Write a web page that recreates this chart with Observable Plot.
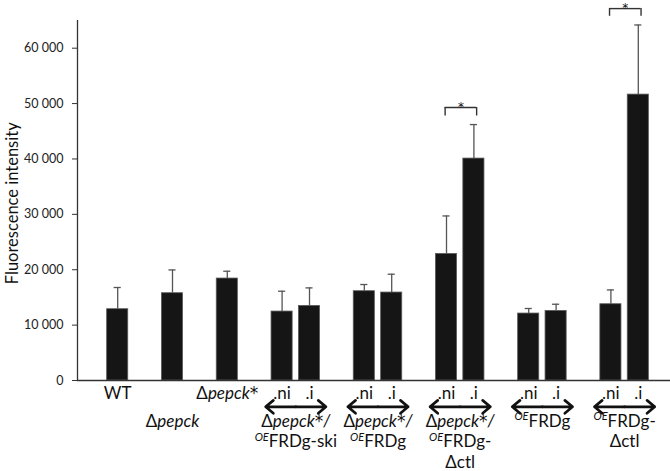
<!DOCTYPE html>
<html>
<head>
<meta charset="utf-8">
<script src="https://cdn.jsdelivr.net/npm/d3@7"></script>
<script src="https://cdn.jsdelivr.net/npm/@observablehq/plot@0.6"></script>
<style>
  html, body { margin: 0; padding: 0; background: white; }
</style>
</head>
<body>
<div id="chart"></div>
<script>
// ---- Data ----
// Markup in labels: _text_ = italic, ^text^ = italic superscript
const singleLabels = ["WT", "Δ_pepck_", "Δ_pepck*_"];
const singleMeans = [12870, 15760, 18410];
const singleSD = [3920, 4200, 1320];

const pairConditions = [".ni", ".i"];
const pairLabelLines = [
  ["Δ_pepck*/_", "^OE^FRDg-ski"],
  ["Δ_pepck*/_", "^OE^FRDg"],
  ["Δ_pepck*/_", "^OE^FRDg-", "Δctl"],
  ["^OE^FRDg"],
  ["^OE^FRDg-", "Δctl"]
];
const niMeans = [12450, 16120, 22850, 12090, 13770];
const niSD = [3670, 1210, 6860, 910, 2580];
const iMeans = [13470, 15880, 40070, 12560, 51620];
const iSD = [3250, 3310, 6140, 1210, 12570];

// significance brackets (pair index, bracket top value, bracket leg bottom value)
const sigPairs = [2, 4];
const sigTop = [49280, 67150];
const sigLeg = [47760, 65760];

const yTicks = [0, 10000, 20000, 30000, 40000, 50000, 60000];
const yLabel = "Fluorescence intensity";

// ---- Layout built from the data ----
const singleSlot = i => 2 * i;
const pairSlot = (j, k) => 6 + 3 * j + k;
const pairCenter = j => 6.5 + 3 * j;

const bars = [
  ...singleLabels.map((lab, i) => ({slot: singleSlot(i), mean: singleMeans[i], sd: singleSD[i]})),
  ...pairLabelLines.flatMap((_, j) => [
    {slot: pairSlot(j, 0), mean: niMeans[j], sd: niSD[j]},
    {slot: pairSlot(j, 1), mean: iMeans[j], sd: iSD[j]}
  ])
];

const fs = 17;
const rowDy = [12.6, 40.6, 61.1, 81.6];
const labelRows = [
  ...singleLabels.map((t, i) => ({x: singleSlot(i), row: i % 2, text: t})),
  ...pairLabelLines.flatMap((_, j) => pairConditions.map((c, k) => ({x: pairSlot(j, k), row: 0, text: c}))),
  ...pairLabelLines.flatMap((lines, j) => lines.map((t, r) => ({x: pairCenter(j), row: r + 1, text: t})))
];

const step = 27.4;       // pixels per slot
const hw = 0.385;        // half bar width in slot units
const capHw = 0.13;      // half cap width
const arrowHalf = 1.1;   // arrow half length
const xDomain = [-1.467, 20.175];

const sig = sigPairs.map((j, n) => ({x1: pairSlot(j, 0) - 0.05, x2: pairSlot(j, 1) + 0.1, top: sigTop[n], leg: sigLeg[n]}));

const fmt = d => d3.format(",")(d).replace(/,/g, " ");

const marks = [
  // bars
  Plot.rectY(bars, {x1: d => d.slot - hw, x2: d => d.slot + hw, y1: 0, y2: "mean", fill: "#151515", stroke: "#5a5a5a", strokeWidth: 0.8}),
  // error bars (upper only)
  Plot.ruleX(bars, {x: "slot", y1: "mean", y2: d => d.mean + d.sd, stroke: "#555", strokeWidth: 1.3}),
  Plot.ruleY(bars, {x1: d => d.slot - capHw, x2: d => d.slot + capHw, y: d => d.mean + d.sd, stroke: "#555", strokeWidth: 1.3}),
  // axes lines
  Plot.ruleY([0], {stroke: "#333", strokeWidth: 1.3}),
  Plot.ruleX([xDomain[0]], {y1: 0, y2: 65000, stroke: "#333", strokeWidth: 1.3}),
  Plot.axisY({ticks: yTicks, tickFormat: fmt, tickSize: 5, tickPadding: 9, fontSize: 12.5, label: null, stroke: "#333", fill: "#222"}),
  // y label
  Plot.text([yLabel], {x: () => xDomain[0] - 65 / step, y: () => 32000, rotate: -90, fontSize: 16.5, fill: "#111"}),
  // significance brackets
  Plot.ruleY(sig, {x1: "x1", x2: "x2", y: "top", stroke: "#333", strokeWidth: 1.4}),
  Plot.ruleX(sig, {x: "x1", y1: "leg", y2: "top", stroke: "#333", strokeWidth: 1.4}),
  Plot.ruleX(sig, {x: "x2", y1: "leg", y2: "top", stroke: "#333", strokeWidth: 1.4}),
  Plot.text(sig, {x: d => (d.x1 + d.x2) / 2, y: "top", text: () => "*", fontFamily: "'DejaVu Sans', sans-serif", fontSize: 12, dy: -0.5, fill: "#111"}),
  // double-headed arrows under pairs
  Plot.arrow(pairLabelLines, {x1: (_, j) => pairCenter(j), x2: (_, j) => pairCenter(j) - arrowHalf, y1: 0, y2: 0, dy: 26.3, stroke: "#111", strokeWidth: 2.7, headLength: 10, headAngle: 80}),
  Plot.arrow(pairLabelLines, {x1: (_, j) => pairCenter(j), x2: (_, j) => pairCenter(j) + arrowHalf, y1: 0, y2: 0, dy: 26.3, stroke: "#111", strokeWidth: 2.7, headLength: 10, headAngle: 80}),
  // category labels
  ...rowDy.map((dy, r) => Plot.text(labelRows.filter(d => d.row === r), {x: "x", y: () => 0, text: "text", dy, fontSize: fs, fill: "#111"}))
];

const svg = Plot.plot({
  width: 670,
  height: 471,
  marginLeft: 77,
  marginRight: 0,
  marginTop: 20,
  marginBottom: 91,
  x: {domain: xDomain, axis: null},
  y: {domain: [0, 65000], axis: null},
  style: {fontFamily: "Lato, 'Open Sans', sans-serif", background: "white", color: "#222", overflow: "visible"},
  marks
});

// rich text: _italic_ and ^superscript^ ; asterisks drawn in a font with a larger glyph
const ns = "http://www.w3.org/2000/svg";
svg.querySelectorAll("text").forEach(el => {
  const s = el.textContent;
  if (!/[_^]/.test(s)) return;
  el.textContent = "";
  let italic = false, sup = false, buf = "", pending = 0;
  const add = (str, star) => {
    const t = document.createElementNS(ns, "tspan");
    t.textContent = str;
    if (italic || sup) t.setAttribute("font-style", "italic");
    if (star) t.setAttribute("font-family", "'DejaVu Sans', sans-serif");
    if (sup) { t.setAttribute("font-size", "11"); t.setAttribute("dy", "-6.5"); pending = 6.5; }
    else if (pending) { t.setAttribute("dy", String(pending)); pending = 0; }
    el.appendChild(t);
  };
  const flush = () => {
    if (!buf) return;
    buf.split(/(\*)/).filter(p => p).forEach(p => add(p, p === "*"));
    buf = "";
  };
  for (const ch of s) {
    if (ch === "_") { flush(); italic = !italic; }
    else if (ch === "^") { flush(); sup = !sup; }
    else buf += ch;
  }
  flush();
});

document.getElementById("chart").appendChild(svg);
</script>
</body>
</html>
